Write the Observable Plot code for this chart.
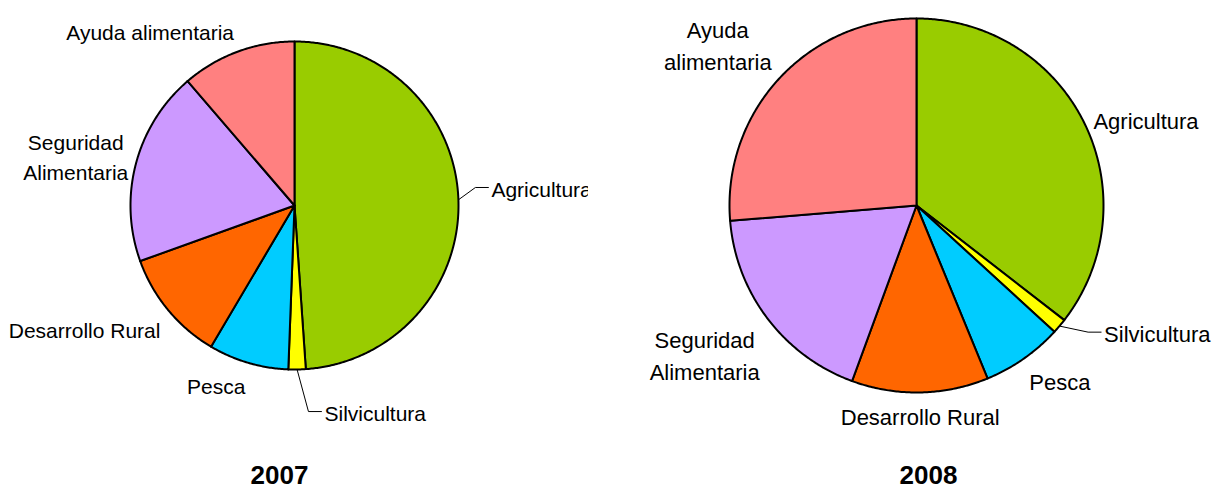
<!DOCTYPE html>
<html><head><meta charset="utf-8">
<script src="https://cdn.jsdelivr.net/npm/d3@7"></script>
<script src="https://cdn.jsdelivr.net/npm/@observablehq/plot@0.6"></script>
<style>
body{margin:0;background:#fff;}
#wrap{position:relative;width:1215px;height:490px;display:flex;overflow:hidden;}
#wrap svg{flex:none;}
</style></head><body><div id="wrap"></div>
<script>
const categories = ["Agricultura","Silvicultura","Pesca","Desarrollo Rural","Seguridad Alimentaria","Ayuda alimentaria"];
const values2007 = [48.9, 1.7, 7.9, 11.0, 19.2, 11.3];
const values2008 = [35.5, 1.3, 7.0, 11.8, 18.1, 26.3];
const labels2007 = ["Agricultura","Silvicultura","Pesca","Desarrollo Rural","Seguridad\nAlimentaria","Ayuda alimentaria"];
const labels2008 = ["Agricultura","Silvicultura","Pesca","Desarrollo Rural","Seguridad\nAlimentaria","Ayuda\nalimentaria"];
const colors = ["#99CC00","#FFFF00","#00CCFF","#FF6600","#CC99FF","#FF8080"];
const years = ["2007","2008"];

const ctx = document.createElement("canvas").getContext("2d");
function measure(text, size) {
  ctx.font = `${size}px "Liberation Sans"`;
  return Math.max(...text.split("\n").map(t => ctx.measureText(t).width));
}

function pieChart({values, labels, year, width, cx, cy, r, fontSize, lineHeight, titleX, moved, nudge}) {
  const total = d3.sum(values);
  let acc = 0;
  const slices = values.map((v, i) => {
    const a0 = acc / total * 2 * Math.PI; acc += v;
    const a1 = acc / total * 2 * Math.PI;
    return {cat: categories[i], label: labels[i], a0, a1, mid: (a0 + a1) / 2};
  });
  const poly = [];
  for (const s of slices) {
    poly.push({cat: s.cat, x: cx, y: cy});
    const n = Math.max(2, Math.ceil((s.a1 - s.a0) / (Math.PI / 360)));
    for (let k = 0; k <= n; k++) {
      const a = s.a0 + (s.a1 - s.a0) * k / n;
      poly.push({cat: s.cat, x: cx + r * Math.sin(a), y: cy - r * Math.cos(a)});
    }
    poly.push({cat: s.cat, x: cx, y: cy});
  }
  const R = r + 10;
  const texts = [], leaders = [];
  for (const s of slices) {
    const ux = Math.sin(s.mid), uy = -Math.cos(s.mid);
    const px = cx + R * ux, py = cy + R * uy;
    const w = measure(s.label, fontSize);
    const nl = s.label.split("\n").length;
    const h = (nl - 1) * lineHeight * fontSize + fontSize * 1.15;
    let tx = Math.abs(ux) < 0.15 ? px : ux < 0 ? px - w / 2 : px + w / 2;
    let ty = uy > 0.5 ? py + h / 2 : uy < -0.5 ? py - h / 2 : py;
    const nd = nudge[s.cat];
    if (nd) { tx += nd[0]; ty += nd[1]; }
    const mv = moved[s.cat];
    if (mv) {
      tx += mv[0]; ty += mv[1];
      const left = tx - w / 2;
      leaders.push({cat: s.cat, x: cx + r * ux, y: cy + r * uy},
                   {cat: s.cat, x: left - 16, y: ty},
                   {cat: s.cat, x: left - 3, y: ty});
    }
    texts.push({label: s.label, x: tx, y: ty});
  }
  return Plot.plot({
    width, height: 490, margin: 0,
    style: {fontFamily: '"Liberation Sans", Arial, sans-serif', overflow: "hidden", background: "white", color: "black"},
    x: {domain: [0, width], range: [0, width], axis: null},
    y: {domain: [0, 490], range: [0, 490], axis: null},
    color: {domain: categories, range: colors},
    marks: [
      Plot.line(poly, {x: "x", y: "y", z: "cat", fill: "cat", stroke: "black", strokeWidth: 2}),
      Plot.line(leaders, {x: "x", y: "y", z: "cat", stroke: "black", strokeWidth: 1}),
      Plot.text(texts, {x: "x", y: "y", text: "label", fontSize, lineHeight, textAnchor: "middle", lineAnchor: "middle", fill: "black", clip: true}),
      Plot.text([{t: year, x: titleX, y: 475}], {x: "x", y: "y", text: "t", fontSize: 26, fontWeight: "bold", fill: "black"})
    ]
  });
}

const wrap = document.getElementById("wrap");
wrap.append(pieChart({
  values: values2007, labels: labels2007, year: years[0], width: 588,
  cx: 294, cy: 205, r: 164, fontSize: 21, lineHeight: 1.42, titleX: 279,
  moved: {"Agricultura": [23, -12], "Silvicultura": [78, 20]},
  nudge: {"Seguridad Alimentaria": [2, -6]}
}));
wrap.append(pieChart({
  values: values2008, labels: labels2008, year: years[1], width: 627,
  cx: 328, cy: 205, r: 187, fontSize: 22, lineHeight: 1.45, titleX: 340,
  moved: {"Silvicultura": [37, -13]},
  nudge: {}
}));
</script>
</body></html>
